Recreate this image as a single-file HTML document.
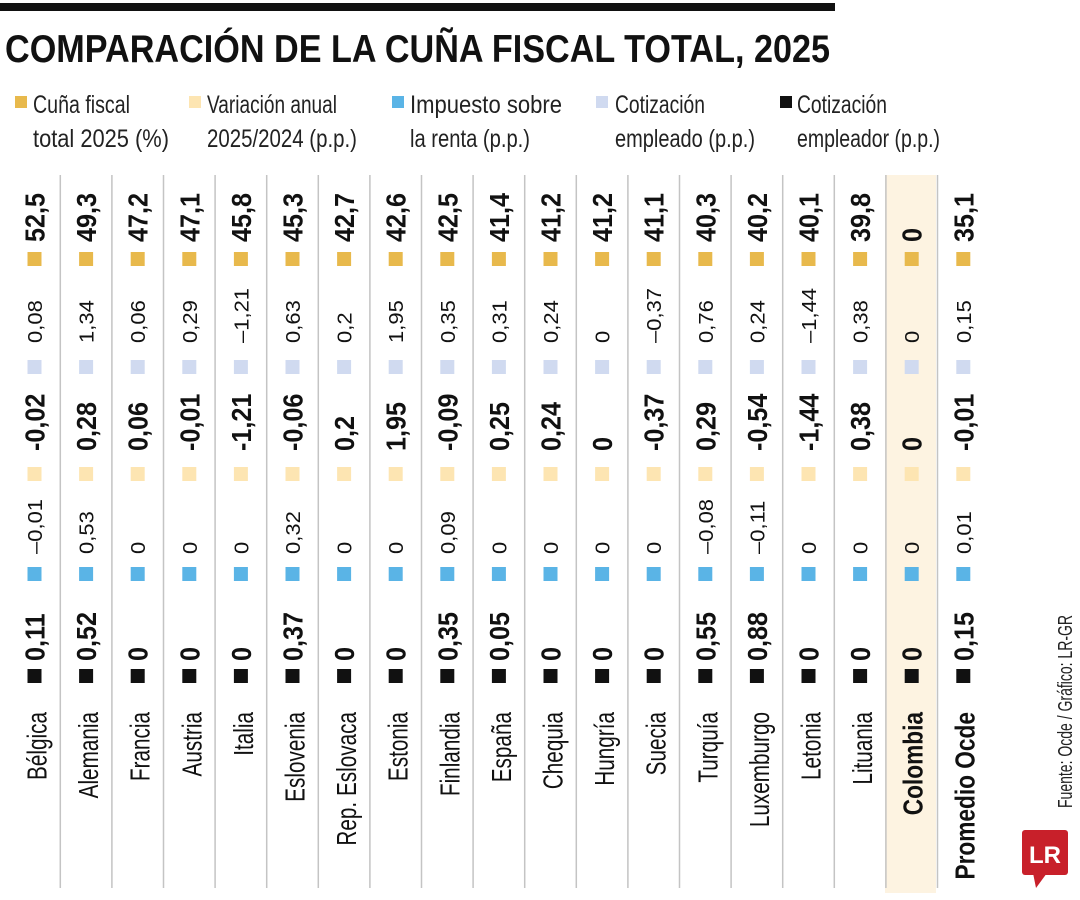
<!DOCTYPE html>
<html><head><meta charset="utf-8"><style>
html,body{margin:0;padding:0;background:#fff;}
svg{display:block;}
text{font-family:"Liberation Sans Narrow","Liberation Sans",sans-serif;}
</style></head><body>
<svg id="chart" width="1080" height="900" viewBox="0 0 1080 900" xmlns="http://www.w3.org/2000/svg">
<rect x="0" y="3" width="835" height="8" fill="#111"/>
<text x="5" y="62" font-size="39" font-weight="bold" font-family="Liberation Sans" textLength="825" lengthAdjust="spacingAndGlyphs" fill="#111">COMPARACIÓN DE LA CUÑA FISCAL TOTAL, 2025</text>
<g font-size="25" fill="#222">
 <g><rect x="15" y="96" width="12" height="12" fill="#e8b94c"/><text x="33" y="113" textLength="97" lengthAdjust="spacingAndGlyphs">Cuña fiscal</text><text x="33" y="147" textLength="136" lengthAdjust="spacingAndGlyphs">total 2025 (%)</text></g>
 <g><rect x="189" y="96" width="12" height="12" fill="#fde5b2"/><text x="207" y="113" textLength="130" lengthAdjust="spacingAndGlyphs">Variación anual</text><text x="207" y="147" textLength="150" lengthAdjust="spacingAndGlyphs">2025/2024 (p.p.)</text></g>
 <g><rect x="392" y="96" width="12" height="12" fill="#5ab4e6"/><text x="410" y="113" textLength="152" lengthAdjust="spacingAndGlyphs">Impuesto sobre</text><text x="410" y="147" textLength="120" lengthAdjust="spacingAndGlyphs">la renta (p.p.)</text></g>
 <g><rect x="596" y="96" width="12" height="12" fill="#d0daf0"/><text x="615" y="113" textLength="90" lengthAdjust="spacingAndGlyphs">Cotización</text><text x="615" y="147" textLength="140" lengthAdjust="spacingAndGlyphs">empleado (p.p.)</text></g>
 <g><rect x="780" y="96" width="12" height="12" fill="#111"/><text x="797" y="113" textLength="90" lengthAdjust="spacingAndGlyphs">Cotización</text><text x="797" y="147" textLength="143" lengthAdjust="spacingAndGlyphs">empleador (p.p.)</text></g>
</g>
<rect x="885" y="175" width="51" height="718" fill="#fdf3e1"/>
<g id="grid"></g>
<g id="cells"></g>
<text transform="translate(1072,808) rotate(-90)" font-size="20" fill="#222" textLength="193" lengthAdjust="spacingAndGlyphs">Fuente: Ocde / Gráfico: LR-GR</text>
<g>
 <rect x="1022" y="830" width="46" height="45" rx="3" fill="#c8202a"/>
 <polygon points="1033,873 1047,873 1036,888" fill="#c8202a"/>
 <text x="1045" y="863" text-anchor="middle" font-family="Liberation Serif" font-weight="bold" font-size="24" fill="#fff">LR</text>
</g>
</svg>
<script>
const countries = ["Bélgica","Alemania","Francia","Austria","Italia","Eslovenia","Rep. Eslovaca","Estonia","Finlandia","España","Chequia","Hungría","Suecia","Turquía","Luxemburgo","Letonia","Lituania","Colombia","Promedio Ocde"];
const totalWedge = [52.5,49.3,47.2,47.1,45.8,45.3,42.7,42.6,42.5,41.4,41.2,41.2,41.1,40.3,40.2,40.1,39.8,0,35.1];
const employeeContrib = [0.08,1.34,0.06,0.29,-1.21,0.63,0.2,1.95,0.35,0.31,0.24,0,-0.37,0.76,0.24,-1.44,0.38,0,0.15];
const annualVariation = [-0.02,0.28,0.06,-0.01,-1.21,-0.06,0.2,1.95,-0.09,0.25,0.24,0,-0.37,0.29,-0.54,-1.44,0.38,0,-0.01];
const incomeTax = [-0.01,0.53,0,0,0,0.32,0,0,0.09,0,0,0,0,-0.08,-0.11,0,0,0,0.01];
const employerContrib = [0.11,0.52,0,0,0,0.37,0,0,0.35,0.05,0,0,0,0.55,0.88,0,0,0,0.15];

const NS = "http://www.w3.org/2000/svg";
const colX = i => 34.5 + 51.6 * i;
const grid = document.getElementById("grid");
const cells = document.getElementById("cells");

for (let i = 0; i < countries.length - 1; i++) {
  const l = document.createElementNS(NS, "line");
  const x = colX(i) + 25.8;
  l.setAttribute("x1", x); l.setAttribute("x2", x);
  l.setAttribute("y1", 175); l.setAttribute("y2", 888);
  l.setAttribute("stroke", "#c4c4c4"); l.setAttribute("stroke-width", "1.5");
  
  
  grid.appendChild(l);
}

function fmt(v, bold) {
  let s = String(Math.abs(v)).replace(".", ",");
  if (v < 0) s = (bold ? "-" : "–") + s;
  return s;
}

const rows = [
  {key:"total", vals: totalWedge, color:"#e8b94c", sq:252, ty:242, bold:true},
  {key:"employee", vals: employeeContrib, color:"#d0daf0", sq:360, ty:343, bold:false},
  {key:"variation", vals: annualVariation, color:"#fde5b2", sq:467, ty:451, bold:true},
  {key:"income-tax", vals: incomeTax, color:"#5ab4e6", sq:567, ty:554, bold:false},
  {key:"employer", vals: employerContrib, color:"#111", sq:669, ty:661, bold:true}
];

function vtext(x, y, str, size, bold, sx, anchor) {
  const t = document.createElementNS(NS, "text");
  t.setAttribute("transform", `translate(${x},${y}) rotate(-90) scale(${sx},1)`);
  t.setAttribute("font-size", size);
  if (bold) { t.setAttribute("font-weight", "bold"); t.setAttribute("font-family", "Liberation Sans"); }
  if (anchor) t.setAttribute("text-anchor", anchor);
  t.setAttribute("fill", "#111");
  t.textContent = str;
  return t;
}

countries.forEach((c, i) => {
  const cx = colX(i);
  rows.forEach(r => {
    const sq = document.createElementNS(NS, "rect");
    sq.setAttribute("x", cx - 7); sq.setAttribute("y", r.sq);
    sq.setAttribute("width", 14); sq.setAttribute("height", 14);
    sq.setAttribute("fill", r.color);
    
    
    cells.appendChild(sq);
    const t = r.bold ? vtext(cx + 10, r.ty, fmt(r.vals[i], true), 28, true, 0.9)
                     : vtext(cx + 7.5, r.ty, fmt(r.vals[i], false), 20, false, 1.1);
    
    
    cells.appendChild(t);
  });
  const bold = (c === "Colombia" || c === "Promedio Ocde");
  const n = bold ? vtext(cx + 11, 712, c, 28, true, 0.81, "end")
                 : vtext(cx + 12, 712, c, 28, false, 0.74, "end");
  
  
  cells.appendChild(n);
});
</script>
</body></html>
